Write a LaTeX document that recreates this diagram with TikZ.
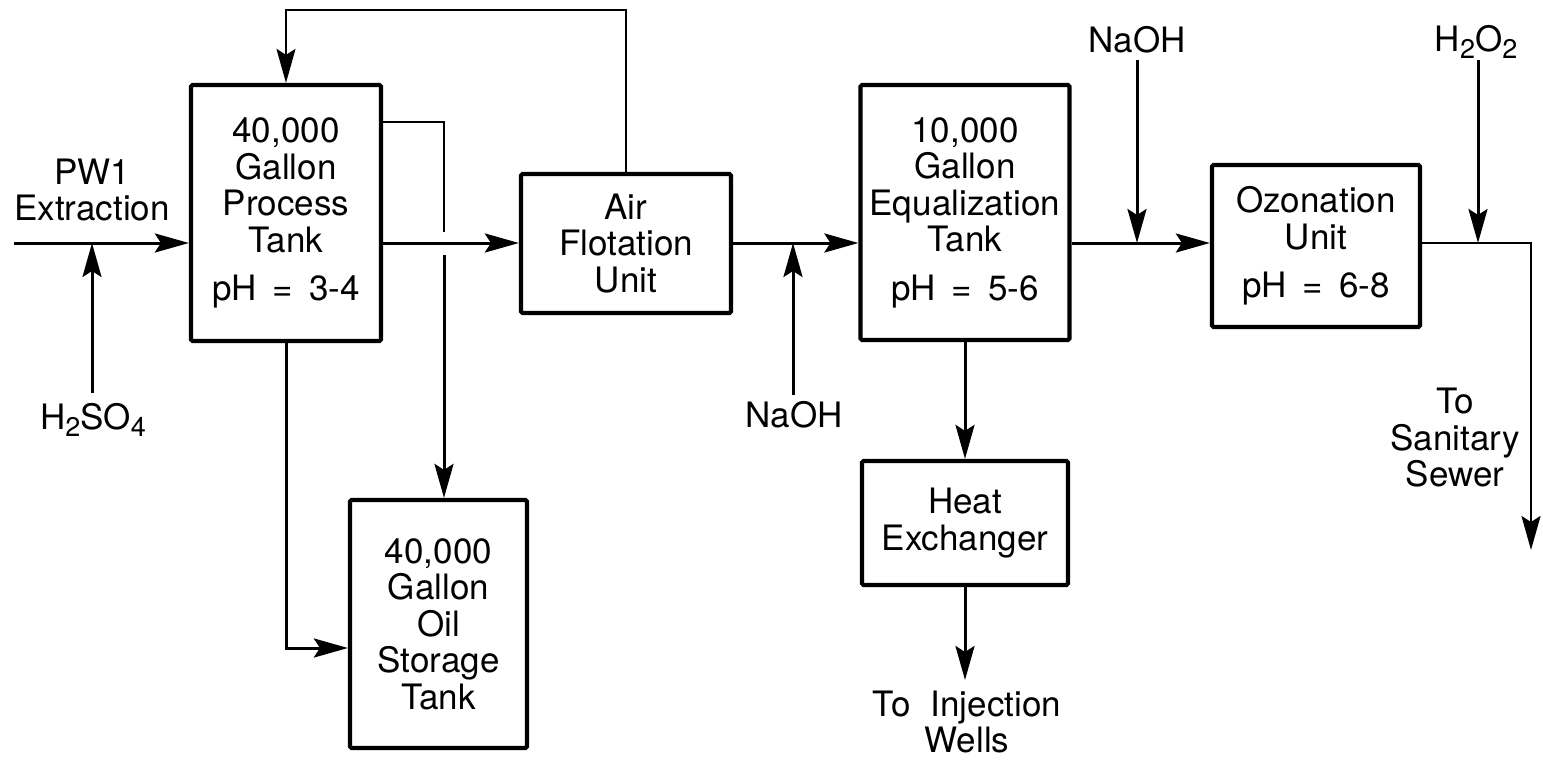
\documentclass[tikz,border=0pt]{standalone}
\usepackage{fontspec}
\setmainfont{TeX Gyre Heros}
\usetikzlibrary{arrows.meta}
\newcommand\bigfont{\fontsize{35}{36.5}\selectfont}
\newcommand\chemsub[1]{\raisebox{-7pt}{\fontsize{27}{27}\selectfont #1}}
\begin{document}
\begin{tikzpicture}[x=1pt,y=-1pt,
  box/.style={draw, line width=4.2pt, rounded corners=1.5pt, inner sep=0pt, align=center, font=\bigfont},
  flow/.style={line width=3pt, -{Stealth[length=34pt,width=19pt,inset=6pt]}},
  thinflow/.style={line width=2.3pt, -{Stealth[length=34pt,width=19pt,inset=6pt]}},
  plain/.style={line width=2.3pt},
  lbl/.style={align=center, font=\bigfont, inner sep=0pt}]
\useasboundingbox[fill=white] (0,0) rectangle (1543,760);

% boxes
\node[box, minimum width=190pt, minimum height=256pt] (pt) at (286,213)
  {40,000\\Gallon\\Process\\Tank\\[12pt]pH\hspace{16pt}=\hspace{16pt}3-4};
\node[box, minimum width=177pt, minimum height=248pt] (oil) at (438.5,624)
  {40,000\\Gallon\\Oil\\Storage\\Tank};
\node[box, minimum width=210pt, minimum height=139pt] (air) at (626,243.5)
  {Air\\Flotation\\Unit};
\node[box, minimum width=209pt, minimum height=255pt] (eq) at (965,212.5)
  {10,000\\Gallon\\Equalization\\Tank\\[12pt]pH\hspace{16pt}=\hspace{16pt}5-6};
\node[box, minimum width=206pt, minimum height=124pt] (hx) at (965,523)
  {Heat\\Exchanger};
\node[box, minimum width=208pt, minimum height=162pt] (oz) at (1316,246)
  {Ozonation\\Unit\\[12pt]pH\hspace{16pt}=\hspace{16pt}6-8};

% labels
\node[lbl] (pw) at (92,190) {PW1\\Extraction};
\node[lbl] (h2so4) at (93,420) {H\chemsub{2}SO\chemsub{4}};
\node[lbl] (naoha) at (794,415) {NaOH};
\node[lbl] (naohb) at (1137,40) {NaOH};
\node[lbl] (h2o2) at (1476,42) {H\chemsub{2}O\chemsub{2}};
\node[lbl] (san) at (1455,438) {To\\Sanitary\\Sewer};
\node[lbl] (inj) at (967,722) {To\hspace{20pt}Injection\\Wells};

% coordinates
\coordinate (in) at (14,243);
\coordinate (acid) at (92,393);
\coordinate (m1) at (444,122);
\coordinate (g1) at (444,232);
\coordinate (g2) at (444,255);
\coordinate (yb) at (0,648);
\coordinate (top) at (0,10);
\coordinate (na1) at (793,395);
\coordinate (na2) at (1137,60);
\coordinate (hp) at (1478,60);
\coordinate (out) at (1531,243);
\coordinate (outend) at (1531,550);
\coordinate (wells) at (965,680);

% connectors
\draw[flow] (in) -- (pt.west |- in);
\draw[flow] (acid) -- (acid |- in);
\draw[plain] (pt.east |- m1) -- (m1) -- (g1);
\draw[flow] (g2) -- (g2 |- oil.north);
\draw[flow] (pt.south) -- (pt.south |- yb) -- (oil.west |- yb);
\draw[thinflow] (air.north) -- (air.north |- top) -- (pt.north |- top) -- (pt.north);
\draw[flow] (pt.east |- in) -- (air.west |- in);
\draw[flow] (air.east |- in) -- (eq.west |- in);
\draw[flow] (na1) -- (na1 |- in);
\draw[flow] (eq.east |- in) -- (oz.west |- in);
\draw[flow] (na2) -- (na2 |- in);
\draw[flow] (hp) -- (hp |- in);
\draw[thinflow] (oz.east |- in) -- (out) -- (outend);
\draw[flow] (eq.south) -- (hx.north);
\draw[flow] (hx.south) -- (wells);
\end{tikzpicture}
\end{document}
